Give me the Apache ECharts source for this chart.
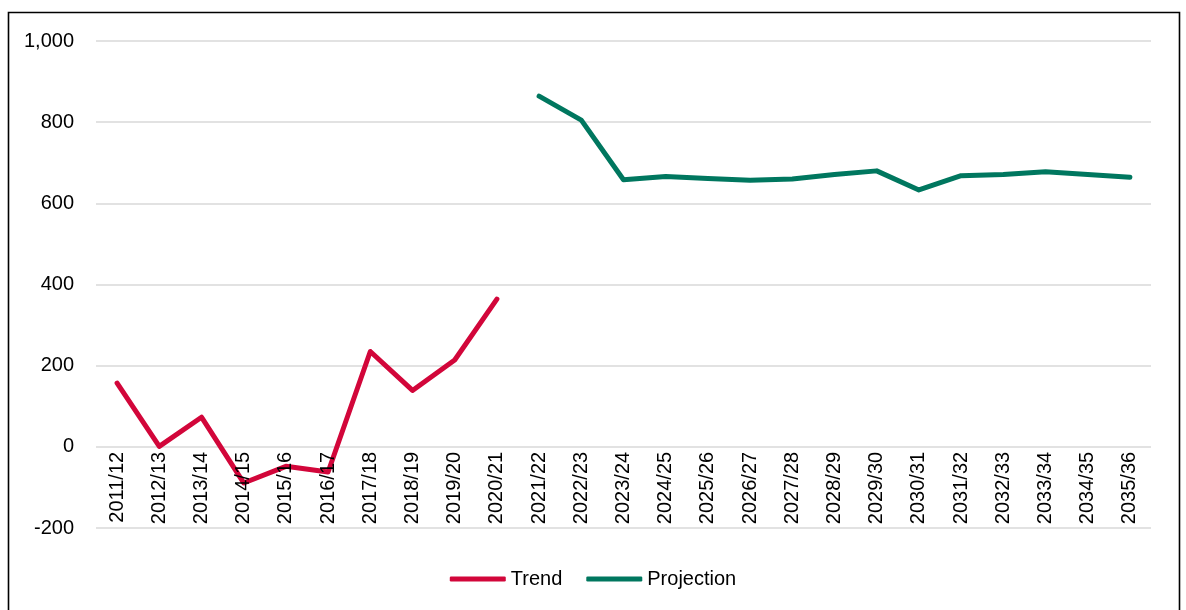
<!DOCTYPE html>
<html>
<head>
<meta charset="utf-8">
<style>
  html, body { margin: 0; padding: 0; background: #fff; }
  #chart { width: 1186px; height: 610px; }
</style>
<script src="https://cdn.jsdelivr.net/npm/echarts@6/dist/echarts.min.js"></script>
</head>
<body>
<div id="chart"></div>
<script>
// Financial years on the category axis
const years = [
  '2011/12', '2012/13', '2013/14', '2014/15', '2015/16', '2016/17', '2017/18',
  '2018/19', '2019/20', '2020/21', '2021/22', '2022/23', '2023/24', '2024/25',
  '2025/26', '2026/27', '2027/28', '2028/29', '2029/30', '2030/31', '2031/32',
  '2032/33', '2033/34', '2034/35', '2035/36'
];

// Observed trend, 2011/12 to 2020/21
const trendValues = [157, 1, 73, -89, -48, -62, 235, 139, 214, 364];

// Projection, 2021/22 to 2035/36
const projectionValues = [864, 805, 658, 666, 661, 657, 660, 671, 680, 633, 668, 671, 678, 671, 664];

// Value axis range and step
const yMin = -200;
const yMax = 1000;
const yStep = 200;

const trendSeries = years.map((y, i) => (i < trendValues.length ? trendValues[i] : null));
const projectionSeries = years.map((y, i) => {
  const j = i - trendValues.length;
  return j >= 0 && j < projectionValues.length ? projectionValues[j] : null;
});

const font = '"Liberation Sans", Arial, sans-serif';
const red = '#D2063A';
const green = '#00775F';
const gridGrey = '#d9d9d9';

const W = 1186, H = 610;
const gridBox = { left: 96, right: 35, top: 41, bottom: 82 };
// Lift the category axis from the bottom of the plot up to the zero line
const plotHeight = H - gridBox.top - gridBox.bottom;
const zeroOffset = -plotHeight * (0 - yMin) / (yMax - yMin);

const chart = echarts.init(document.getElementById('chart'));
chart.setOption({
  animation: false,
  backgroundColor: '#ffffff',
  graphic: [{
    type: 'rect',
    shape: { x: 8.5, y: 12.5, width: 1171, height: 640 },
    style: { fill: 'none', stroke: '#000', lineWidth: 1.6 },
    silent: true
  }],
  grid: Object.assign({ containLabel: false }, gridBox),
  legend: {
    bottom: 16,
    left: 'center',
    itemWidth: 56,
    itemHeight: 5,
    itemGap: 24,
    textStyle: { fontFamily: font, fontSize: 20, color: '#000', padding: [0, 0, 0, 0] },
    data: [
      { name: 'Trend', icon: 'roundRect', itemStyle: { color: red } },
      { name: 'Projection', icon: 'roundRect', itemStyle: { color: green } }
    ]
  },
  xAxis: {
    type: 'category',
    data: years,
    boundaryGap: true,
    position: 'bottom',
    offset: zeroOffset,
    z: 5,
    axisLine: { show: false, onZero: false },
    axisTick: { show: false },
    axisLabel: {
      rotate: 90,
      interval: 0,
      margin: 5,
      fontFamily: font,
      fontSize: 20,
      color: '#000'
    }
  },
  yAxis: {
    type: 'value',
    min: yMin,
    max: yMax,
    interval: yStep,
    axisLine: { show: false },
    axisTick: { show: false },
    splitLine: { lineStyle: { color: gridGrey, width: 1.5 } },
    axisLabel: {
      margin: 22,
      fontFamily: font,
      fontSize: 20,
      color: '#000',
      formatter: v => v.toLocaleString('en-US')
    }
  },
  series: [
    {
      name: 'Trend',
      type: 'line',
      data: trendSeries,
      showSymbol: false,
      symbol: 'none',
      z: 3,
      lineStyle: { color: red, width: 5, cap: 'round', join: 'round' },
      itemStyle: { color: red }
    },
    {
      name: 'Projection',
      type: 'line',
      data: projectionSeries,
      showSymbol: false,
      symbol: 'none',
      z: 3,
      lineStyle: { color: green, width: 5, cap: 'round', join: 'round' },
      itemStyle: { color: green }
    }
  ]
});
</script>
</body>
</html>
